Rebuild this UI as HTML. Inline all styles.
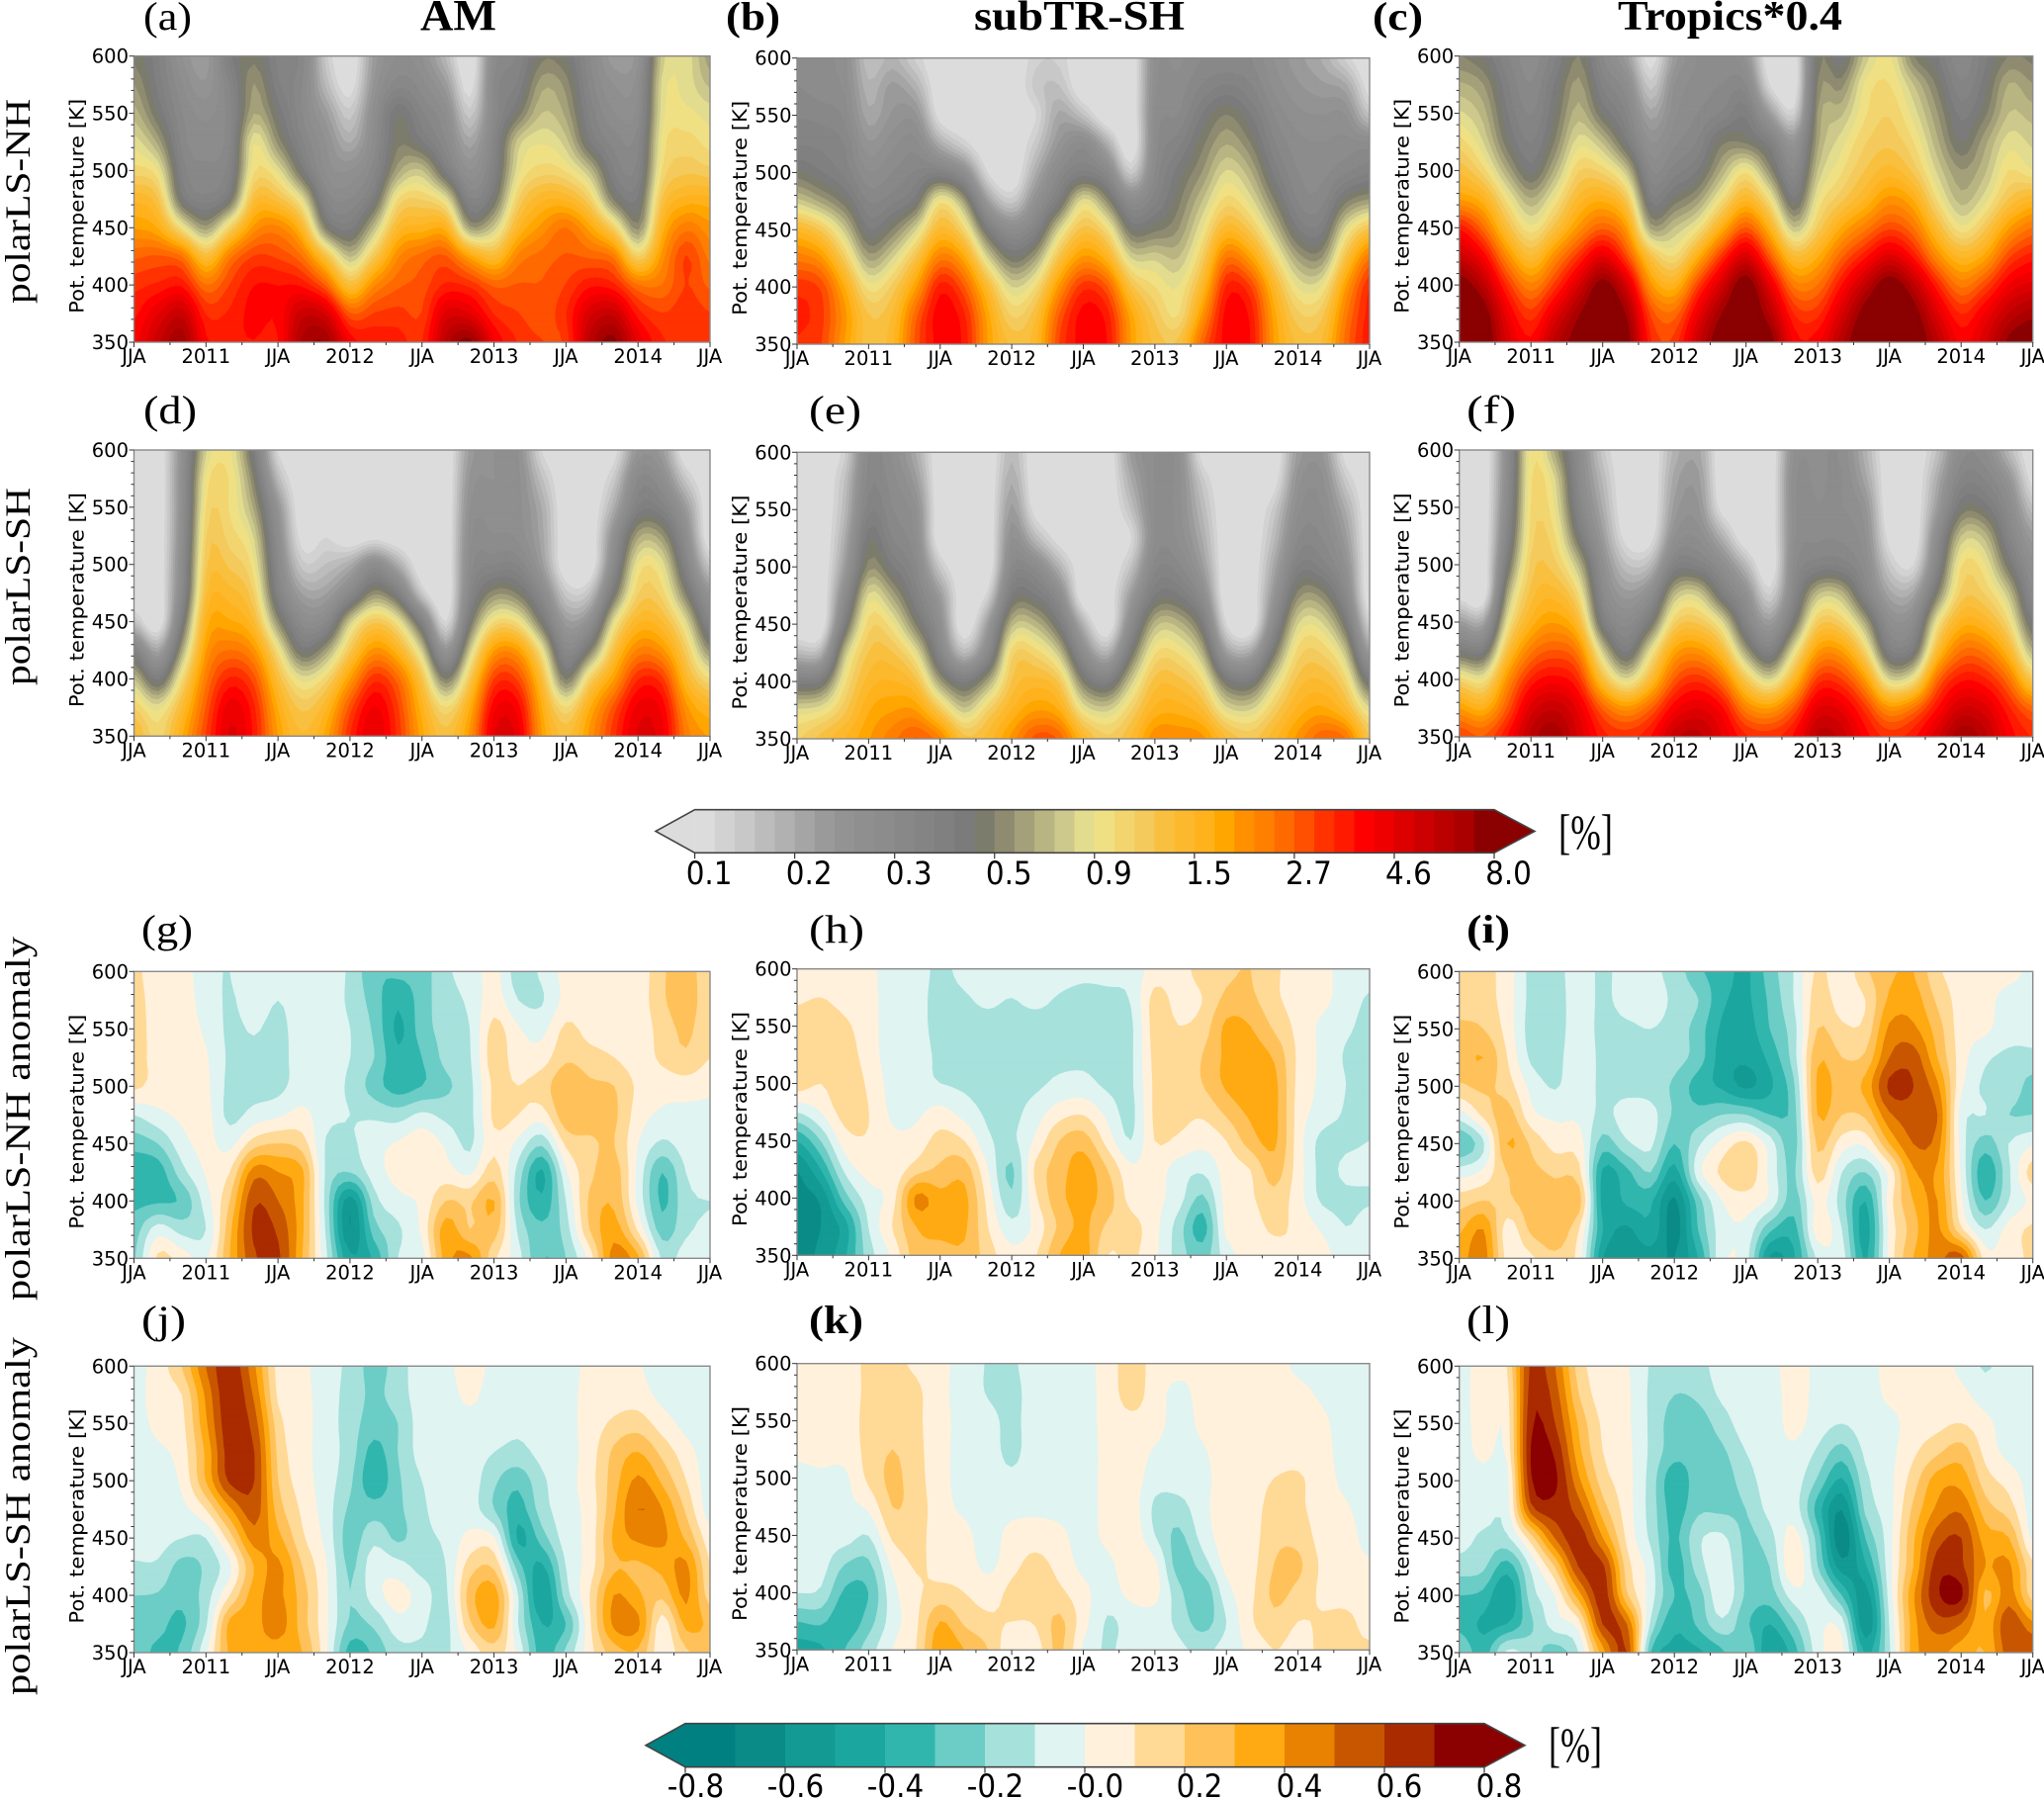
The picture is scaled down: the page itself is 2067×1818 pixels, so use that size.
<!DOCTYPE html>
<html lang="en">
<head>
<meta charset="utf-8">
<title>Contour panels of tracer contribution by potential temperature</title>
<style>
html,body{margin:0;padding:0;background:#fff;}
svg{display:block;}
.tick{font-family:"DejaVu Sans",sans-serif;font-size:19.5px;fill:#000;}
.cbt{font-family:"DejaVu Sans",sans-serif;font-size:32px;fill:#000;}
.ser{font-family:"Liberation Serif",serif;fill:#000;}
</style>
</head>
<body>
<svg id="fig" xmlns="http://www.w3.org/2000/svg" width="2067" height="1818" viewBox="0 0 2067 1818">
<rect width="2067" height="1818" fill="#fff"/>
<text class="ser" x="425" y="30" font-size="44" font-weight="bold" textLength="77" lengthAdjust="spacingAndGlyphs">AM</text>
<text class="ser" x="985" y="30" font-size="42" font-weight="bold" textLength="213" lengthAdjust="spacingAndGlyphs">subTR-SH</text>
<text class="ser" x="1636" y="30" font-size="42" font-weight="bold" textLength="227" lengthAdjust="spacingAndGlyphs">Tropics*0.4</text>
<text class="ser" font-size="36" textLength="207" lengthAdjust="spacingAndGlyphs" transform="translate(30,307) rotate(-90)">polarLS-NH</text>
<text class="ser" font-size="36" textLength="200" lengthAdjust="spacingAndGlyphs" transform="translate(30,693) rotate(-90)">polarLS-SH</text>
<text class="ser" font-size="36" textLength="368" lengthAdjust="spacingAndGlyphs" transform="translate(30,1315) rotate(-90)">polarLS-NH anomaly</text>
<text class="ser" font-size="36" textLength="362" lengthAdjust="spacingAndGlyphs" transform="translate(30,1714) rotate(-90)">polarLS-SH anomaly</text>
<text class="ser" x="1576" y="858" font-size="50" textLength="55" lengthAdjust="spacingAndGlyphs">[%]</text>
<text class="ser" x="1566" y="1781" font-size="50" textLength="54" lengthAdjust="spacingAndGlyphs">[%]</text>
</svg>
<script>
// ---- axes data ----
const timeMonths = [0,2,4,6,8,10,12,14,16,18,20,22,24,26,28,30,32,34,36,38,40,42,44,46,48];
const thetaLevels = [350,375,400,425,450,475,500,525,550,575,600];
const xTickMonths = [0,6,12,18,24,30,36,42,48];
const xTickLabels = ['JJA','2011','JJA','2012','JJA','2013','JJA','2014','JJA'];
const yTickValues = [350,400,450,500,550,600];
const topBarLabels = ['0.1','0.2','0.3','0.5','0.9','1.5','2.7','4.6','8.0'];
const bottomBarLabels = ['-0.8','-0.6','-0.4','-0.2','-0.0','0.2','0.4','0.6','0.8'];

// ---- panel values: one column per time step, values at thetaLevels (percent) ----
const gridA = [
[4,3.6,3.2,2.6,1.9,1.5,1.05,.85,.68,.58,.5],
[5.5,4.6,3.4,2.7,1.7,1.25,.9,.62,.46,.4,.38],
[7,5.5,3.6,2.4,.95,.44,.36,.32,.3,.27,.24],
[3.8,3.3,2.4,1.35,.6,.35,.31,.28,.26,.22,.2],
[3.7,3.4,3,2.3,1.1,.46,.36,.33,.32,.34,.4],
[3.7,3.9,3.7,3,2,1.35,.98,.88,.64,.58,.5],
[3.7,3.8,3.7,2.9,2.2,1.3,.85,.55,.45,.38,.36],
[6.5,5.5,3.6,2.4,1.5,.85,.44,.34,.3,.3,.32],
[7,5,2.6,1.3,.5,.33,.26,.24,.2,.15,.13],
[4,2.7,1.35,.7,.4,.3,.24,.17,.13,.1,.09],
[3.6,3,2.1,1.2,.7,.42,.32,.28,.26,.22,.2],
[3.5,3.1,2.6,2.1,1.45,1,.62,.5,.46,.32,.27],
[3.3,3,2.8,2.5,1.6,1.1,.72,.42,.34,.28,.24],
[6,4.8,3.4,2.7,1.6,.85,.4,.3,.26,.2,.15],
[7.5,4.6,3.2,1.8,.6,.34,.24,.18,.13,.1,.09],
[4.2,3.3,2.6,1.4,.75,.46,.37,.34,.3,.3,.28],
[3.3,3,2.7,2.2,1.5,1.1,.85,.75,.48,.38,.34],
[3,2.8,2.7,2.5,2,1.5,1.05,.88,.72,.62,.5],
[3.1,3.3,3,2.7,2.4,1.5,.98,.75,.62,.55,.46],
[6,5,3.6,2.6,1.8,1.1,.7,.42,.36,.32,.3],
[7.5,5.5,3.4,2.3,1.1,.5,.37,.32,.27,.24,.2],
[4.5,3.5,2.4,1.1,.55,.42,.35,.32,.28,.26,.23],
[3.4,3,2.4,2,1.6,1.25,1,.92,.85,.82,.75],
[3.2,3.2,3,3,2.3,1.6,1.2,1.05,.92,.85,.85],
[3.2,3,2.6,2.3,2,1.6,1.15,.95,.85,.7,.6]];
const gridB = [
[3.3,3.4,3.2,2.3,1.5,.75,.48,.37,.33,.3,.28],
[3,3.1,2.9,2,1.2,.62,.42,.36,.32,.28,.27],
[1.9,2,1.7,1.15,.75,.48,.36,.33,.29,.26,.25],
[1.3,1.25,.95,.62,.42,.33,.27,.22,.18,.16,.14],
[1.5,1.4,1.15,.8,.52,.36,.3,.26,.22,.2,.16],
[2.8,2.6,1.9,1.3,.8,.45,.34,.28,.22,.16,.12],
[3.9,4,3.5,2.3,1.45,.95,.36,.17,.1,.09,.09],
[3.6,3.4,2.7,1.8,1.05,.6,.26,.12,.09,.09,.09],
[1.9,1.8,1.4,.8,.42,.2,.11,.09,.09,.09,.09],
[1.35,1.1,.8,.48,.27,.13,.09,.09,.09,.09,.09],
[1.5,1.35,1,.62,.36,.24,.17,.13,.11,.13,.12],
[3,2.7,2,1.3,.8,.42,.3,.22,.18,.14,.12],
[3.9,3.9,3.2,2,1.3,.85,.38,.28,.14,.09,.09],
[3.7,3.5,2.7,1.6,1,.55,.3,.17,.09,.09,.09],
[1.9,1.8,1.3,.8,.47,.28,.13,.09,.09,.09,.09],
[1.35,1.2,1,.78,.5,.36,.3,.28,.27,.26,.25],
[1.3,1,.9,.72,.58,.5,.44,.36,.3,.28,.26],
[2.6,2,1.5,1.15,.9,.72,.58,.5,.42,.34,.3],
[3.9,3.9,3.4,2.4,1.5,1.05,.82,.64,.52,.38,.3],
[3.7,3.6,3,1.9,1.2,.85,.66,.52,.42,.34,.3],
[1.9,1.8,1.5,1.05,.72,.52,.4,.34,.3,.26,.24],
[1.35,1.15,.88,.62,.42,.33,.3,.28,.25,.22,.2],
[1.4,1.2,.9,.58,.4,.32,.29,.27,.24,.2,.17],
[2.5,2.3,1.9,1.3,.85,.5,.33,.28,.24,.18,.12],
[3.6,3.5,3.3,2.4,1.3,.6,.37,.28,.14,.1,.09]];
const gridC = [
[10,9.5,8.2,5.5,3.6,1.9,1.35,1.05,.82,.66,.52],
[9,8.2,6,4,2.5,1.6,1.05,.8,.68,.58,.46],
[5,4.3,3.2,2.1,1.35,.95,.64,.48,.42,.38,.34],
[3.8,3.1,2.2,1.4,.92,.65,.44,.37,.33,.3,.28],
[6,4.6,3.1,2.1,1.3,.92,.66,.52,.46,.42,.36],
[8,7,5,3.2,2,1.45,1.1,.85,.68,.6,.52],
[9.5,9,7.8,4.6,2.6,1.65,1.05,.7,.46,.36,.3],
[8,7,5,2.9,1.9,1.2,.72,.42,.33,.27,.2],
[3.4,2.9,2,1.3,.62,.4,.3,.24,.18,.13,.1],
[3.1,2.5,1.6,1,.72,.48,.35,.29,.26,.24,.2],
[5.5,4.4,3,1.7,.95,.6,.42,.34,.3,.28,.27],
[8.5,7.2,5.2,3.2,1.7,.98,.66,.5,.34,.3,.28],
[9.5,9,8.2,5,2.7,1.5,.95,.5,.4,.3,.23],
[8,6.2,4.5,2.7,1.6,.95,.55,.38,.2,.11,.09],
[4,3.3,2.3,1.4,.72,.42,.3,.22,.12,.09,.09],
[4,3.2,2.4,1.7,1.15,.9,.72,.62,.58,.52,.48],
[6.2,5,3.7,2.6,1.75,1.2,.98,.85,.7,.55,.42],
[9,8,5.8,3.6,2.3,1.55,1.25,1.1,.98,.92,.75],
[10,9.5,8.2,4.8,2.9,2,1.45,1.2,1.1,1,.92],
[9,8,6,3.6,2.4,1.7,1.2,1,.85,.72,.52],
[6,4.8,3.4,2.1,1.4,.98,.78,.66,.58,.5,.42],
[4,3.3,2.3,1.5,.92,.68,.58,.46,.4,.34,.3],
[5,4.2,2.9,1.8,1.2,.85,.7,.62,.5,.44,.4],
[7.5,5.8,4.2,2.9,1.9,1.25,1,.85,.72,.65,.52],
[8.5,6.8,4.8,3.5,2.4,1.5,.9,.78,.68,.58,.5]];
const gridD = [
[1.45,1.1,.72,.36,.14,.09,.09,.09,.09,.09,.09],
[1.05,.85,.4,.18,.09,.09,.09,.09,.09,.09,.09],
[1.7,1.4,1,.62,.4,.3,.28,.26,.25,.25,.24],
[3,2.7,2.3,1.9,1.6,1.35,1.2,1.1,1,.92,.78],
[4.7,4.4,3.4,2.4,1.75,1.45,1.2,1.05,.98,.98,.9],
[3.6,3.4,2.8,2,1.4,1.1,.92,.78,.62,.5,.4],
[1.9,1.7,1.35,.95,.55,.36,.3,.26,.22,.15,.11],
[1.4,1.2,.85,.44,.28,.19,.13,.1,.09,.09,.09],
[1.8,1.5,1.05,.6,.3,.19,.14,.11,.09,.09,.09],
[3.3,2.8,1.9,1.2,.75,.3,.17,.09,.09,.09,.09],
[4.6,4.2,3.2,2,1.2,.55,.27,.1,.09,.09,.09],
[3.2,3,2.5,1.55,.9,.38,.17,.09,.09,.09,.09],
[1.8,1.6,1.25,.75,.36,.13,.09,.09,.09,.09,.09],
[1.3,1,.5,.22,.11,.09,.09,.09,.09,.09,.09],
[2,1.7,1.2,.75,.45,.32,.28,.26,.24,.22,.2],
[4.6,4,3,1.9,1,.55,.33,.27,.25,.24,.24],
[4.4,3.9,2.9,1.9,.95,.5,.33,.26,.25,.25,.24],
[1.9,1.7,1.35,.9,.46,.29,.2,.18,.17,.14,.11],
[1.35,1,.5,.3,.2,.13,.09,.09,.09,.09,.09],
[2,1.7,1.1,.5,.25,.14,.09,.09,.09,.09,.09],
[3.2,2.8,1.9,1.3,.85,.45,.3,.24,.17,.13,.1],
[4.7,4.3,3.3,2.2,1.5,1.1,.9,.62,.38,.3,.22],
[4.3,4,3.1,2,1.4,1.05,.85,.58,.36,.26,.2],
[2.3,2,1.5,1.15,.82,.5,.34,.26,.2,.13,.09],
[1.9,1.55,1,.55,.33,.22,.13,.09,.09,.09,.09]];
const gridE = [
[1.1,.82,.38,.15,.09,.09,.09,.09,.09,.09,.09],
[1.3,.88,.42,.16,.09,.09,.09,.09,.09,.09,.09],
[1.55,1.2,.95,.7,.4,.27,.2,.17,.15,.14,.12],
[1.9,1.7,1.45,1.25,1.05,.82,.55,.45,.36,.32,.3],
[2.3,1.9,1.55,1.25,.92,.62,.42,.33,.3,.28,.26],
[2.7,1.9,1.3,.85,.5,.36,.3,.26,.24,.2,.17],
[2.2,1.2,.6,.33,.25,.2,.13,.09,.09,.09,.09],
[1.3,.75,.4,.15,.09,.09,.09,.09,.09,.09,.09],
[1.45,1.1,.62,.3,.2,.12,.09,.09,.09,.09,.09],
[2,1.55,1.25,1.05,.68,.42,.3,.24,.2,.17,.15],
[2.8,1.9,1.45,1.05,.68,.42,.28,.15,.1,.09,.09],
[2.6,1.7,1.2,.72,.42,.27,.16,.1,.09,.09,.09],
[1.5,.9,.5,.27,.16,.09,.09,.09,.09,.09,.09],
[1.15,.78,.38,.16,.09,.09,.09,.09,.09,.09,.09],
[1.4,1.1,.75,.45,.28,.2,.14,.11,.14,.17,.2],
[2.1,1.6,1.3,.98,.68,.42,.32,.27,.27,.27,.27],
[2.1,1.65,1.3,.98,.68,.42,.31,.26,.25,.25,.25],
[2,1.4,1,.66,.42,.27,.2,.17,.15,.13,.1],
[1.4,.85,.46,.2,.11,.09,.09,.09,.09,.09,.09],
[1.2,.8,.42,.18,.09,.09,.09,.09,.09,.09,.09],
[1.5,1.15,.8,.48,.3,.22,.18,.15,.13,.1,.09],
[2,1.6,1.3,1.05,.8,.55,.38,.3,.26,.23,.2],
[2.6,1.8,1.4,1.1,.82,.55,.36,.3,.27,.25,.22],
[2.4,1.45,1.05,.72,.45,.3,.24,.2,.17,.13,.1],
[1.25,.85,.42,.2,.12,.09,.09,.09,.09,.09,.09]];
const gridF = [
[3,1.9,1.05,.42,.2,.1,.09,.09,.09,.09,.09],
[2.7,1.65,.92,.4,.18,.09,.09,.09,.09,.09,.09],
[3.7,2.7,2,1.3,.85,.6,.42,.33,.29,.27,.26],
[6,4.8,3.4,2.3,1.6,1.3,1.15,1.05,1,.98,.95],
[7,5.6,3.9,2.7,1.9,1.45,1.15,1,.88,.8,.62],
[5,4.4,3.2,2.2,1.4,.98,.68,.44,.34,.3,.28],
[3.5,2.6,1.35,.75,.4,.3,.25,.2,.17,.15,.13],
[3.2,2,.82,.4,.28,.2,.14,.1,.09,.09,.09],
[3.7,2.6,1.4,.85,.44,.26,.15,.1,.09,.09,.09],
[5.5,4,2.7,1.8,1.1,.68,.36,.24,.2,.18,.16],
[6,4.6,3.2,2,1.2,.75,.36,.26,.22,.2,.18],
[4.6,3.8,2.4,1.4,.82,.4,.26,.16,.1,.09,.09],
[3.4,2.2,1.2,.6,.34,.24,.15,.09,.09,.09,.09],
[3.2,1.9,.8,.36,.2,.12,.09,.09,.09,.09,.09],
[3.8,2.7,1.5,.85,.45,.32,.28,.26,.26,.26,.24],
[6,4.6,3.1,1.9,1.15,.7,.36,.29,.27,.26,.26],
[5.5,4.4,3,1.9,1.1,.68,.36,.29,.27,.27,.26],
[3.9,3.1,1.9,1.05,.62,.34,.27,.24,.22,.18,.16],
[3.2,2,.8,.38,.26,.18,.13,.1,.09,.09,.09],
[3.6,2.4,.95,.42,.28,.18,.11,.09,.09,.09,.09],
[5,3.7,2.5,1.4,.9,.5,.34,.27,.2,.17,.14],
[7,5.2,3.6,2.4,1.6,1.15,.98,.72,.46,.34,.28],
[6,4.8,3.4,2.3,1.5,1.1,.9,.68,.44,.33,.27],
[4,3.4,2.4,1.5,1,.72,.46,.34,.28,.22,.15],
[3.3,2.5,1.2,.65,.42,.3,.25,.2,.14,.1,.09]];
const gridG = [
[-.22,-.25,-.33,-.38,-.26,-.1,.12,.13,.14,.14,.12],
[.12,-.05,-.32,-.36,-.2,-.03,.06,.07,.06,.05,.05],
[.05,-.14,-.28,-.14,-.04,.02,.05,.05,.05,.05,.05],
[-.02,-.1,-.05,.01,.03,.03,.02,.01,-.02,-.05,-.07],
[.3,.27,.2,.1,-.03,-.13,-.13,-.12,-.12,-.11,-.1],
[.58,.62,.58,.45,.15,-.06,-.14,-.13,-.09,-.05,-.04],
[.62,.58,.5,.4,.2,-.02,-.13,-.14,-.13,-.1,-.06],
[.3,.32,.32,.32,.15,.03,-.05,-.05,-.05,-.05,-.05],
[-.08,-.12,-.14,-.12,-.11,-.07,-.06,-.06,-.06,-.06,-.05],
[-.48,-.6,-.55,-.2,-.12,-.1,-.12,-.1,-.1,-.12,-.12],
[-.38,-.25,-.15,-.05,-.04,-.12,-.25,-.2,-.22,-.25,-.28],
[-.1,-.12,-.03,.03,.01,-.15,-.35,-.38,-.42,-.38,-.28],
[-.04,.02,.02,.04,.06,-.08,-.3,-.3,-.25,-.25,-.25],
[.35,.35,.2,.04,-.02,-.13,-.22,-.17,-.16,-.14,-.12],
[.42,.2,.18,-.02,-.12,-.13,-.13,-.11,-.1,-.08,-.06],
[.12,.25,.3,.15,.08,.12,.12,.15,.13,.05,.03],
[-.06,-.12,-.18,-.14,-.03,.1,.1,.04,.01,-.1,-.15],
[-.3,-.28,-.38,-.42,-.18,.05,.15,.05,-.03,-.11,-.08],
[-.2,-.15,-.1,-.02,.12,.27,.28,.18,.12,.03,.03],
[.04,.2,.22,.17,.18,.25,.22,.14,.06,.04,.02],
[.45,.35,.28,.25,.2,.22,.2,.1,.05,.05,.03],
[.32,.08,-.03,-.03,0,.05,.08,.05,.04,.04,.03],
[-.12,-.25,-.32,-.3,-.12,-.02,.04,.12,.14,.18,.18],
[-.05,-.12,-.13,-.1,-.05,-.03,.05,.18,.22,.25,.25],
[-.03,-.08,-.1,-.05,-.03,-.02,.02,.1,.12,.13,.12]];
const gridH = [
[-.62,-.62,-.62,-.6,-.4,-.1,.15,.16,.16,.08,.06],
[-.58,-.6,-.58,-.4,-.2,0,.1,.15,.17,.1,.06],
[-.42,-.45,-.25,-.08,.05,.14,.17,.15,.12,.06,.05],
[-.15,-.1,-.05,.04,.09,.1,.08,.05,.04,.03,.02],
[.02,.1,.05,.03,.02,-.02,-.04,-.05,-.05,-.05,-.04],
[.25,.3,.42,.15,.04,-.02,-.06,-.06,-.07,-.07,-.06],
[.25,.34,.33,.22,.14,.03,-.1,-.12,-.13,-.13,-.12],
[.28,.32,.33,.25,.1,-.04,-.12,-.13,-.13,-.11,-.07],
[.15,.1,.06,0,-.08,-.12,-.14,-.14,-.13,-.08,-.05],
[.03,-.07,-.18,-.22,-.12,-.13,-.14,-.14,-.14,-.1,-.05],
[.09,.03,.08,.12,.02,-.05,-.12,-.11,-.14,-.07,-.05],
[.3,.22,.27,.25,.2,.05,-.08,-.12,-.14,-.11,-.04],
[.35,.32,.33,.35,.25,.08,-.07,-.12,-.13,-.14,-.06],
[.1,.18,.25,.2,.06,-.03,-.12,-.12,-.13,-.13,-.05],
[.12,.14,.06,.02,-.1,-.13,-.12,-.12,-.12,-.09,-.06],
[.02,.03,.03,.05,.1,.12,.12,.13,.14,.13,.04],
[-.15,-.15,-.06,-.05,.08,.13,.14,.12,.1,.06,.05],
[-.25,-.35,-.22,-.08,.03,.12,.2,.2,.14,.1,.15],
[-.05,.03,.04,.04,.1,.22,.32,.32,.32,.22,.18],
[.05,.05,.08,.1,.25,.32,.38,.35,.3,.22,.2],
[.06,.12,.17,.25,.32,.33,.33,.28,.18,.12,.12],
[.1,.07,.04,.05,.05,.06,.07,.08,.07,.06,.05],
[.04,-.02,-.12,-.13,-.13,-.04,-.02,-.02,-.02,.03,.03],
[-.05,-.1,-.12,-.08,-.12,-.11,-.1,-.11,-.08,-.05,-.04],
[-.04,-.06,-.11,-.08,-.1,-.13,-.12,-.13,-.13,-.11,-.06]];
const gridI = [
[.35,.28,.15,-.05,-.3,-.05,.18,.25,.22,.15,.12],
[.45,.4,.2,.02,-.12,.12,.22,.3,.2,.14,.13],
[.06,.05,.18,.2,.3,.25,.15,.1,.06,.05,.05],
[.08,.22,.25,.22,.18,.03,-.03,-.12,-.14,-.13,-.13],
[.18,.27,.25,.18,.06,-.02,-.11,-.14,-.15,-.15,-.14],
[.05,.1,.25,.13,.05,-.02,-.03,-.03,-.05,-.05,-.05],
[-.5,-.4,-.45,-.42,-.25,-.13,-.13,-.13,-.13,-.12,-.12],
[-.58,-.52,-.38,-.33,-.12,-.05,-.14,-.14,-.12,-.06,-.06],
[-.55,-.42,-.38,-.2,-.08,-.06,-.15,-.14,-.1,-.06,-.08],
[-.6,-.65,-.62,-.45,-.3,-.22,-.22,-.16,-.14,-.12,-.14],
[-.4,-.3,-.25,-.04,-.12,-.26,-.35,-.25,-.25,-.2,-.28],
[-.03,-.05,0,.12,.03,-.2,-.42,-.45,-.42,-.38,-.35],
[-.06,-.03,.05,.18,.12,-.2,-.52,-.48,-.45,-.42,-.42],
[-.52,-.28,-.03,-.03,-.05,-.3,-.42,-.37,-.3,-.28,-.25],
[-.42,-.35,-.25,-.22,-.25,-.25,-.22,-.15,-.14,-.1,-.1],
[-.08,.05,.03,.15,.22,.3,.32,.28,.2,.15,.12],
[-.05,-.1,-.15,-.1,.05,.2,.25,.2,.12,.05,.03],
[-.42,-.45,-.4,-.2,.02,.22,.33,.22,.13,.1,.18],
[.03,.02,.05,.03,.3,.48,.62,.5,.42,.32,.28],
[.3,.25,.3,.38,.5,.55,.6,.55,.42,.35,.3],
[.45,.42,.4,.38,.45,.5,.42,.3,.25,.18,.12],
[.55,.12,.02,-.02,-.04,-.05,.02,.05,.05,.06,.06],
[.05,-.1,-.3,-.38,-.25,-.1,-.12,-.08,.02,.04,.05],
[.06,.04,-.1,-.12,-.1,-.2,-.13,-.12,-.06,-.05,.04],
[.12,.12,.02,.15,-.02,-.2,-.25,-.12,-.08,-.05,-.03]];
const gridJ = [
[-.25,-.25,-.2,-.12,-.04,-.05,-.05,-.05,-.05,-.04,-.04],
[-.32,-.27,-.21,-.12,-.06,-.05,-.05,-.02,.03,.05,.05],
[-.28,-.32,-.27,-.24,-.1,-.03,.02,.05,.07,.1,.2],
[-.02,-.12,-.15,-.18,-.1,.1,.3,.32,.38,.42,.5],
[.32,.33,.1,-.02,.15,.38,.62,.65,.67,.68,.67],
[.36,.36,.35,.3,.45,.55,.6,.6,.55,.48,.42],
[.35,.45,.42,.42,.33,.25,.2,.17,.14,.08,.06],
[.3,.25,.25,.2,.12,.08,.05,.04,.04,.03,.02],
[.02,.02,.02,.01,-.03,-.05,-.05,-.05,-.05,-.05,-.05],
[-.35,-.22,-.2,-.22,-.25,-.22,-.18,-.15,-.15,-.14,-.13],
[-.28,-.18,-.05,-.04,-.13,-.25,-.38,-.34,-.25,-.22,-.24],
[-.14,-.04,.04,-.06,-.22,-.22,-.22,-.2,-.2,-.15,-.15],
[-.12,-.08,-.05,-.13,-.13,-.12,-.1,-.06,-.05,-.05,-.04],
[-.12,-.14,-.12,-.1,-.08,-.05,-.05,-.05,-.05,-.04,-.03],
[.02,.18,.25,.15,.03,-.05,-.05,-.05,-.03,.02,.05],
[.15,.32,.35,.18,.01,-.2,-.18,-.1,-.05,-.05,-.03],
[-.03,-.1,-.1,-.25,-.42,-.35,-.27,-.13,-.08,-.05,-.04],
[-.35,-.4,-.5,-.42,-.25,-.15,-.12,-.07,-.05,-.04,-.04],
[-.18,-.3,-.15,-.1,-.05,-.04,-.04,-.04,-.03,-.03,-.03],
[.06,.08,.1,.05,.04,.04,.06,.05,.04,.03,.02],
[.25,.42,.4,.28,.32,.28,.25,.22,.12,.05,.04],
[.28,.42,.32,.28,.42,.5,.42,.3,.15,.05,.01],
[.03,.05,.22,.33,.42,.4,.28,.17,.05,-.03,-.06],
[.18,.33,.42,.42,.28,.18,.1,.04,-.03,-.05,-.05],
[.25,.28,.15,.1,.04,-.05,-.05,-.05,-.05,-.05,-.05]];
const gridK = [
[-.45,-.3,-.1,-.05,-.05,-.04,-.03,.02,.04,.05,.05],
[-.42,-.28,-.12,-.06,-.05,-.03,-.02,.04,.05,.05,.05],
[-.3,-.38,-.32,-.2,-.05,-.02,-.02,.04,.05,.05,.05],
[-.15,-.25,-.3,-.22,-.1,.02,.12,.13,.13,.12,.12],
[0,-.05,-.04,.02,.12,.2,.22,.2,.16,.14,.12],
[.1,.08,.08,.11,.13,.15,.14,.13,.12,.12,.08],
[.38,.3,.13,.07,.05,.04,.03,.03,.03,.02,.02],
[.3,.18,.1,.06,.03,-.02,-.03,-.03,-.03,-.03,-.03],
[.2,.12,.06,-.03,-.05,-.05,-.05,-.05,-.06,-.11,-.11],
[.02,.1,.12,.07,.04,-.04,-.08,-.13,-.13,-.14,-.12],
[.05,.11,.14,.12,.06,-.03,-.04,-.04,-.04,-.04,-.03],
[.22,.22,.12,.07,.03,-.04,-.05,-.05,-.05,-.05,-.04],
[-.02,.04,.03,-.03,-.05,-.05,-.05,-.05,-.05,-.04,-.03],
[-.11,-.11,-.05,-.03,.03,.03,.03,.03,.04,.04,.04],
[-.06,-.06,.03,.07,.07,.05,.05,.06,.08,.14,.15],
[-.05,-.05,.03,.02,-.1,-.12,-.05,-.01,.05,.05,.06],
[-.08,-.13,-.17,-.25,-.22,-.14,-.05,-.05,-.05,-.03,.04],
[-.12,-.25,-.28,-.15,-.06,-.03,-.03,-.01,.03,.04,.04],
[-.06,-.1,-.04,.03,.05,.05,.05,.05,.05,.05,.05],
[.02,.08,.07,.06,.05,.05,.05,.05,.05,.05,.05],
[.1,.17,.22,.2,.17,.14,.1,.05,.05,.05,.05],
[.06,.1,.17,.22,.16,.12,.11,.06,.05,.03,-.03],
[.12,.11,.08,.08,.06,.05,.05,.04,.02,-.02,-.05],
[.12,.13,.05,.04,.04,.01,-.03,-.05,-.05,-.05,-.05],
[.12,.05,.03,.01,-.04,-.05,-.05,-.05,-.05,-.05,-.05]];
const gridL = [
[-.2,-.33,-.3,-.15,-.06,-.05,-.05,-.05,-.05,-.04,-.04],
[-.35,-.42,-.33,-.18,-.12,-.06,-.05,.03,.05,.05,.05],
[-.08,-.4,-.5,-.35,-.12,-.05,-.04,.02,.04,.06,.1],
[-.15,-.22,-.15,-.08,.15,.55,.68,.7,.68,.65,.62],
[-.25,-.05,0,.2,.5,.65,.72,.68,.6,.55,.5],
[-.1,.05,.35,.6,.65,.55,.42,.33,.28,.2,.15],
[.35,.6,.65,.62,.4,.25,.15,.1,.08,.05,.05],
[.6,.5,.22,.15,.08,.05,.04,.03,.02,.02,.01],
[-.3,-.12,-.05,-.05,-.12,-.14,-.14,-.12,-.12,-.12,-.11],
[-.42,-.38,-.3,-.35,-.32,-.35,-.38,-.26,-.25,-.2,-.15],
[-.42,-.28,-.25,-.15,-.12,-.22,-.24,-.25,-.25,-.18,-.14],
[-.32,-.13,-.02,-.03,-.08,-.22,-.25,-.22,-.15,-.08,-.05],
[-.2,-.28,-.22,-.22,-.22,-.2,-.15,-.1,-.05,-.05,-.05],
[-.5,-.4,-.25,-.2,-.14,-.07,-.05,-.05,-.05,-.05,-.04],
[-.35,-.22,-.05,.08,.04,-.05,-.05,-.02,.03,.04,.05],
[-.05,-.03,-.05,-.2,-.25,-.35,-.22,-.12,-.05,-.03,-.03],
[.03,-.05,-.3,-.55,-.68,-.6,-.42,-.25,-.1,-.05,-.04],
[-.42,-.58,-.55,-.42,-.3,-.18,-.13,-.08,-.05,-.05,-.04],
[-.12,-.1,-.06,-.04,-.04,-.04,-.03,-.03,-.03,.02,.03],
[.35,.35,.38,.3,.28,.22,.15,.08,.04,.03,.03],
[.42,.55,.68,.65,.55,.42,.35,.18,.07,.05,.05],
[.35,.5,.72,.62,.6,.48,.36,.25,.1,.03,-.03],
[.3,.32,.28,.4,.35,.25,.15,.07,.03,-.05,-.11],
[.55,.58,.45,.42,.3,.15,.06,-.03,-.05,-.05,-.05],
[.6,.42,.15,.12,-.03,-.05,-.05,-.05,-.05,-.05,-.05]];

// ---- colour tables ----
const topColors = ['#dcdcdc','#d2d2d2','#c8c8c8','#bcbcbc','#b1b1b1','#a5a5a5','#9a9a9a','#939393','#8f8f8f','#8c8c8c','#888888','#848484','#808080','#7b7b7b','#7c7c6c','#8f8b70','#a3a07a','#b9b582','#cdc98c','#e2dd8e','#f0e084','#f2d56e','#f4ca5c','#f9c03f','#fcb92d','#ffb21c','#ffa700','#ff9000','#ff7f00','#ff6a00','#ff4f00','#ff3200','#ff1a00','#ff0000','#ee0000','#dd0000','#cc0000','#bb0000','#aa0000','#8b0000'];
const anomColors = ['#008080','#0a8b88','#129a93','#1ca6a0','#31b6ae','#6bcdc6','#a6e1dc','#e0f4f2','#fff1dc','#ffd996','#ffc25a','#ffaa12','#e88200','#c85600','#aa2b00','#8b0000'];

// ---- layout (pixels) kept apart from the data ----
const COLX = [[135.5,718],[806,1385],[1475.7,2055.7]];
const panelDefs = [
 {id:'a',grid:gridA,kind:'top',col:0,y0:56.7,y1:346,lx:145,lw:49,ly:30,bold:0},
 {id:'b',grid:gridB,kind:'top',col:1,y0:58.7,y1:348,lx:734,lw:55,ly:30,bold:1},
 {id:'c',grid:gridC,kind:'top',col:2,y0:56.7,y1:346,lx:1388,lw:51,ly:30,bold:1},
 {id:'d',grid:gridD,kind:'top',col:0,y0:455,y1:744.3,lx:145,lw:54,ly:428,bold:0},
 {id:'e',grid:gridE,kind:'top',col:1,y0:457.3,y1:747,lx:818,lw:53,ly:428,bold:0},
 {id:'f',grid:gridF,kind:'top',col:2,y0:455,y1:745,lx:1483,lw:50,ly:428,bold:0},
 {id:'g',grid:gridG,kind:'anom',col:0,y0:982.3,y1:1272.3,lx:143,lw:52,ly:953,bold:0},
 {id:'h',grid:gridH,kind:'anom',col:1,y0:979.7,y1:1269.3,lx:818,lw:56,ly:953,bold:0},
 {id:'i',grid:gridI,kind:'anom',col:2,y0:982.3,y1:1272.3,lx:1483,lw:44,ly:953,bold:1},
 {id:'j',grid:gridJ,kind:'anom',col:0,y0:1381.3,y1:1671,lx:143,lw:45,ly:1348,bold:0},
 {id:'k',grid:gridK,kind:'anom',col:1,y0:1378.7,y1:1668.3,lx:818,lw:55,ly:1348,bold:1},
 {id:'l',grid:gridL,kind:'anom',col:2,y0:1381.3,y1:1671,lx:1483,lw:44,ly:1348,bold:0}
];

const NS = 'http://www.w3.org/2000/svg';
const fig = document.getElementById('fig');
function svgEl(tag, attrs, parent){
  const e = document.createElementNS(NS, tag);
  for (const k in attrs) e.setAttribute(k, attrs[k]);
  parent.appendChild(e);
  return e;
}
// Catmull-Rom interpolation along an array
function cr(a, t){
  const n = a.length - 1;
  if (t <= 0) return a[0];
  if (t >= n) return a[n];
  const i = Math.floor(t), u = t - i;
  const p0 = a[Math.max(i-1,0)], p1 = a[i], p2 = a[i+1], p3 = a[Math.min(i+2,n)];
  return 0.5*((2*p1)+(-p0+p2)*u+(2*p0-5*p1+4*p2-p3)*u*u+(-p0+3*p1-3*p2+p3)*u*u*u);
}
function toField(kind, v){
  return kind === 'top' ? 40*Math.log(Math.max(v,0.02)/0.1)/Math.log(80) : v*10;
}
const SUB = 4;
function drawPanel(def){
  const X0 = COLX[def.col][0], X1 = COLX[def.col][1];
  const xScale = m => X0 + (m/timeMonths[timeMonths.length-1])*(X1-X0);
  const yScale = t => def.y1 - ((t-thetaLevels[0])/(thetaLevels[thetaLevels.length-1]-thetaLevels[0]))*(def.y1-def.y0);
  const g = svgEl('g', {}, fig);
  
  

  const clipId = 'clip-' + def.id;
  const defs = svgEl('defs', {}, g);
  const cp = svgEl('clipPath', {id:clipId}, defs);
  svgEl('rect', {x:X0,y:def.y0,width:X1-X0,height:def.y1-def.y0}, cp);

  // field on a refined grid
  const coarse = def.grid.map(col => col.map(v => toField(def.kind, v)));
  const nT = (coarse.length-1)*SUB+1, nK = (thetaLevels.length-1)*SUB+1;
  const F = [];
  const rows = [];
  for (let k=0;k<nK;k++){
    rows.push(coarse.map(col => cr(col, k/SUB)));
  }
  for (let i=0;i<nT;i++){
    const c = new Float64Array(nK);
    for (let k=0;k<nK;k++) c[k] = cr(rows[k], i/SUB);
    F.push(c);
  }
  const xs = [], ys = [];
  for (let i=0;i<nT;i++){
    const f = i/SUB, a = Math.floor(f), b = Math.min(a+1,timeMonths.length-1);
    xs.push(xScale(timeMonths[a]+(timeMonths[b]-timeMonths[a])*(f-a)));
  }
  for (let k=0;k<nK;k++){
    const f = k/SUB, a = Math.floor(f), b = Math.min(a+1,thetaLevels.length-1);
    ys.push(yScale(thetaLevels[a]+(thetaLevels[b]-thetaLevels[a])*(f-a)));
  }

  const colors = def.kind === 'top' ? topColors : anomColors;
  const base = colors[0];
  const offset = def.kind === 'top' ? 0 : -8;
  const bg = svgEl('rect', {x:X0,y:def.y0,width:X1-X0,height:def.y1-def.y0,fill:base}, g);
  
  
  const fills = svgEl('g', {'clip-path':'url(#'+clipId+')'}, g);
  
  

  for (let b=1;b<colors.length;b++){
    const L = b + offset;
    const parts = [];
    for (let k=0;k<nK-1;k++){
      let runStart = -1;
      for (let i=0;i<nT;i++){
        const full = i<nT-1 && F[i][k]>=L && F[i+1][k]>=L && F[i][k+1]>=L && F[i+1][k+1]>=L;
        if (full){ if (runStart<0) runStart=i; continue; }
        if (runStart>=0){
          parts.push('M'+xs[runStart].toFixed(1)+' '+ys[k].toFixed(1)+'H'+xs[i].toFixed(1)+'V'+ys[k+1].toFixed(1)+'H'+xs[runStart].toFixed(1)+'Z');
          runStart=-1;
        }
        if (i===nT-1) continue;
        const q = [[i,k],[i+1,k],[i+1,k+1],[i,k+1]];
        const poly = [];
        for (let c=0;c<4;c++){
          const A=q[c], B=q[(c+1)%4];
          const fa=F[A[0]][A[1]], fb=F[B[0]][B[1]];
          if (fa>=L) poly.push([xs[A[0]],ys[A[1]]]);
          if ((fa>=L)!==(fb>=L)){
            const t=(L-fa)/(fb-fa);
            poly.push([xs[A[0]]+(xs[B[0]]-xs[A[0]])*t, ys[A[1]]+(ys[B[1]]-ys[A[1]])*t]);
          }
        }
        if (poly.length>2){
          parts.push('M'+poly.map(p=>p[0].toFixed(1)+' '+p[1].toFixed(1)).join('L')+'Z');
        }
      }
    }
    if (!parts.length) continue;
    const band = svgEl('path', {d:parts.join(''),fill:colors[b],stroke:colors[b],'stroke-width':0.5}, fills);
    
    
  }

  const frame = svgEl('rect', {x:X0,y:def.y0,width:X1-X0,height:def.y1-def.y0,fill:'none',stroke:'#8a8a8a','stroke-width':1.4}, g);
  
  

  // x ticks
  for (let m=0;m<=48;m+=3){
    const major = xTickMonths.indexOf(m)>=0;
    const t = svgEl('line', {x1:xScale(m),x2:xScale(m),y1:def.y1,y2:def.y1+(major?5:3),stroke:'#333','stroke-width':1}, g);
    
    
  }
  xTickLabels.forEach((label,i)=>{
    const t = svgEl('text', {class:'tick',x:xScale(xTickMonths[i]),y:def.y1+21,'text-anchor':'middle'}, g);
    t.textContent = label;
    
    
  });
  // y ticks
  for (let th=350;th<=600;th+=10){
    const major = yTickValues.indexOf(th)>=0;
    const t = svgEl('line', {x1:X0,x2:X0-(major?5:3),y1:yScale(th),y2:yScale(th),stroke:'#333','stroke-width':1}, g);
    
    
  }
  yTickValues.forEach(v=>{
    const t = svgEl('text', {class:'tick',x:X0-5.5,y:yScale(v)+7,'text-anchor':'end'}, g);
    t.textContent = String(v);
    
    
  });
  const mid = (def.y0+def.y1)/2;
  const yt = svgEl('text', {class:'tick','text-anchor':'middle',textLength:217,lengthAdjust:'spacingAndGlyphs',transform:'translate('+(X0-51)+','+(mid+7)+') rotate(-90)'}, g);
  yt.textContent = 'Pot. temperature [K]';
  
  

  const lab = svgEl('text', {class:'ser',x:def.lx,y:def.ly,'font-size':40,textLength:def.lw,lengthAdjust:'spacingAndGlyphs','font-weight':def.bold?'bold':'normal'}, g);
  lab.textContent = '(' + def.id + ')';
  
  
}
panelDefs.forEach(drawPanel);

function drawColorbar(name, colors, labels, x0, x1, y0, y1, tipL, tipR, labelY, negShift, posShift){
  const g = svgEl('g', {}, fig);
  
  
  const n = colors.length, w = (x1-x0)/n, mid=(y0+y1)/2;
  const under = svgEl('polygon', {points:x0+','+y0+' '+tipL+','+mid+' '+x0+','+y1,fill:colors[0]}, g);
  
  
  const over = svgEl('polygon', {points:x1+','+y0+' '+tipR+','+mid+' '+x1+','+y1,fill:colors[n-1]}, g);
  
  
  colors.forEach((c,i)=>{
    const r = svgEl('rect', {x:x0+i*w,y:y0,width:w+0.4,height:y1-y0,fill:c}, g);
    
    
  });
  const o = svgEl('polygon', {points:x0+','+y0+' '+x1+','+y0+' '+tipR+','+mid+' '+x1+','+y1+' '+x0+','+y1+' '+tipL+','+mid,fill:'none',stroke:'#444','stroke-width':1.6}, g);
  
  
  labels.forEach((lb,i)=>{
    const x = x0 + i*(x1-x0)/(labels.length-1);
    const tk = svgEl('line', {x1:x,x2:x,y1:y1,y2:y1+6,stroke:'#333','stroke-width':1.2}, g);
    
    
    const lx = x + (lb.charAt(0)==='-' ? negShift : posShift);
    const t = svgEl('text', {class:'cbt','text-anchor':'middle',transform:'translate('+lx+','+labelY+') scale(0.92,1)'}, g);
    t.textContent = lb;
    
    
  });
}
drawColorbar('colorbar-percent', topColors, topBarLabels, 702.6, 1511, 818.7, 862.3, 663, 1552, 894, 14.5, 14.5);
drawColorbar('colorbar-anomaly', anomColors, bottomBarLabels, 693, 1501, 1742.7, 1786.7, 653, 1542, 1817, 10.5, 15);
</script>
</body>
</html>
